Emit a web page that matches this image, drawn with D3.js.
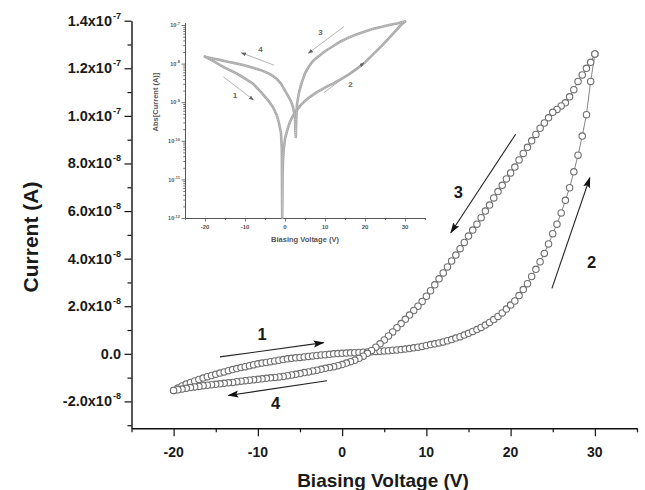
<!DOCTYPE html>
<html><head><meta charset="utf-8">
<script src="https://cdn.jsdelivr.net/npm/d3@7"></script>
<style>body{margin:0;background:#fff}svg{display:block}</style>
</head><body>
<svg id="c" width="645" height="490"></svg>
<script>
// ---------- main data (voltage in V, current in units of 1e-8 A) ----------
const V = [-20,-19.5,-19,-18.5,-18,-17.5,-17,-16.5,-16,-15.5,-15,-14.5,-14,-13.5,-13,-12.5,-12,-11.5,-11,-10.5,
-10,-9.5,-9,-8.5,-8,-7.5,-7,-6.5,-6,-5.5,-5,-4.5,-4,-3.5,-3,-2.5,-2,-1.5,-1,-0.5,
0,0.5,1,1.5,2,2.5,3,3.5,4,4.5,5,5.5,6,6.5,7,7.5,8,8.5,9,9.5,
10,10.5,11,11.5,12,12.5,13,13.5,14,14.5,15,15.5,16,16.5,17,17.5,18,18.5,19,19.5,
20,20.5,21,21.5,22,22.5,23,23.5,24,24.5,25,25.5,26,26.5,27,27.5,28,28.5,29,29.5,30];
// forward sweep -20 -> 30 (arrows 1, 2)
const I_fwd = [-1.54,-1.44,-1.35,-1.27,-1.20,-1.14,-1.08,-1.02,-0.96,-0.91,-0.86,-0.81,-0.76,-0.71,-0.66,-0.62,-0.58,-0.54,-0.50,-0.46,
-0.42,-0.39,-0.36,-0.33,-0.30,-0.27,-0.24,-0.21,-0.19,-0.17,-0.15,-0.13,-0.11,-0.09,-0.07,-0.05,-0.04,-0.02,0.00,0.01,
0.02,0.03,0.04,0.05,0.06,0.07,0.08,0.09,0.10,0.11,0.12,0.13,0.15,0.16,0.18,0.20,0.22,0.25,0.28,0.31,
0.35,0.39,0.42,0.46,0.50,0.55,0.60,0.66,0.72,0.79,0.86,0.94,1.02,1.11,1.21,1.32,1.44,1.57,1.72,1.88,
2.05,2.22,2.45,2.70,2.95,3.25,3.55,3.87,4.22,4.62,5.05,5.45,5.92,6.45,6.98,7.65,8.35,9.15,10.05,11.45,12.6];
// reverse sweep 30 -> -20 (arrows 3, 4), listed in the same voltage order as V
const I_rev = [-1.54,-1.51,-1.48,-1.45,-1.42,-1.39,-1.37,-1.34,-1.32,-1.30,-1.28,-1.26,-1.24,-1.22,-1.20,-1.17,-1.15,-1.13,-1.11,-1.09,
-1.07,-1.05,-1.03,-1.01,-0.99,-0.97,-0.95,-0.92,-0.89,-0.86,-0.83,-0.79,-0.76,-0.72,-0.69,-0.65,-0.61,-0.58,-0.54,-0.50,
-0.45,-0.39,-0.33,-0.27,-0.19,-0.10,0.02,0.14,0.28,0.42,0.58,0.75,0.92,1.10,1.27,1.45,1.63,1.82,2.00,2.20,
2.42,2.65,2.90,3.15,3.40,3.65,3.90,4.15,4.42,4.68,4.95,5.20,5.45,5.72,6.00,6.25,6.55,6.82,7.08,7.35,
7.60,7.85,8.15,8.42,8.68,8.95,9.22,9.48,9.70,9.92,10.15,10.27,10.42,10.55,10.80,11.10,11.45,11.72,12.00,12.25,12.6];

// main axis ticks
const xTicks = [-20,-10,0,10,20,30];
const xMinor = [-25,-15,-5,5,15,25,35];
const yTicks = [1.4e-7,1.2e-7,1.0e-7,8e-8,6e-8,4e-8,2e-8,0,-2e-8];
const yMant  = ["1.4","1.2","1.0","8.0","6.0","4.0","2.0","0.0","-2.0"];
const yExp   = ["-7","-7","-7","-8","-8","-8","-8","","-8"];
const yMinor = [1.3e-7,1.1e-7,9e-8,7e-8,5e-8,3e-8,1e-8,-1e-8,-3e-8];

// main annotations: [label, x1, y1(1e-8 A), x2, y2, labelX, labelY]
const arrowsMain = [
  ["1", -14.5, -0.13, -2.2, 0.47, -9.5, 0.82],
  ["4", -1.8, -1.13, -13.5, -1.75, -7.9, -2.06],
  ["3", 20.6, 9.23, 12.9, 5.09, 13.8, 6.78],
  ["2", 24.9, 2.75, 29.4, 7.4, 29.6, 3.87]
];

// ---------- inset data: |I| as log10(A) ----------
const insV_fwd = [-20,-18,-16,-14,-12,-10,-8,-6,-4,-3,-2,-1.5,-1,-0.8,-0.7,-0.6,-0.5,-0.3,0,0.5,1,1.5,2,3,4,5,6,8,10,12,14,16,18,20,22,24,26,28,29,30];
const insL_fwd = [-7.82,-7.93,-8.05,-8.16,-8.26,-8.39,-8.52,-8.74,-8.98,-9.13,-9.35,-9.55,-9.8,-10.2,-11.99,-10.9,-10.5,-10.2,-9.95,-9.75,-9.58,-9.45,-9.35,-9.2,-9.07,-8.97,-8.88,-8.74,-8.62,-8.52,-8.4,-8.28,-8.13,-7.97,-7.76,-7.56,-7.34,-7.11,-7.0,-6.91];
const insV_rev = [30,28,26,24,22,20,18,16,14,12,10,8,7,6,5,4,3.5,3,2.8,2.7,2.5,2,1.5,1,0,-1,-2,-3,-4,-6,-8,-10,-12,-14,-16,-18,-20];
const insL_rev = [-6.91,-6.96,-7.0,-7.05,-7.1,-7.17,-7.24,-7.32,-7.42,-7.55,-7.68,-7.84,-7.93,-8.07,-8.25,-8.55,-8.75,-9.05,-9.5,-9.9,-9.4,-9.12,-8.98,-8.88,-8.7,-8.52,-8.4,-8.32,-8.26,-8.17,-8.11,-8.05,-8.0,-7.96,-7.91,-7.87,-7.82];
const insYTicks = [-7,-8,-9,-10,-11,-12];
const insXTicks = [-20,-10,0,10,20,30];
const insXMinor = [-25,-15,-5,5,15,25,35];
// inset annotations: [label, x1, log1, x2, log2, labelX, labelLog]
const arrowsInset = [
  ["1", -15.4, -8.34, -7.9, -8.94, -12.5, -8.81],
  ["4", -2.75, -8.04, -10.9, -7.72, -6.1, -7.62],
  ["3", 14.75, -7.04, 5.85, -7.73, 8.9, -7.17],
  ["2", 9.75, -8.75, 19.75, -7.98, 16.4, -8.53]
];

// ---------- drawing ----------
const svg = d3.select("#c");
const FONT = "'Liberation Sans', Arial, sans-serif";
const defs = svg.append("defs");
defs.append("marker").attr("id","ah").attr("markerUnits","userSpaceOnUse")
  .attr("markerWidth",11).attr("markerHeight",8).attr("refX",10).attr("refY",4).attr("orient","auto")
  .append("path").attr("d","M0,0.5 L11,4 L0,7.5 L2,4 z").attr("fill","#111");
defs.append("marker").attr("id","ahs").attr("markerUnits","userSpaceOnUse")
  .attr("markerWidth",5).attr("markerHeight",4).attr("refX",4.5).attr("refY",2).attr("orient","auto")
  .append("path").attr("d","M0,0 L5,2 L0,4 z").attr("fill","#666");

const x = d3.scaleLinear([-25,35],[131.5,637]);
const y = d3.scaleLinear([-3.13e-8,1.4e-7],[428.3,20.7]);

// axes
const gx = svg.append("g").attr("transform",`translate(0,${y.range()[0]})`)
  .call(d3.axisBottom(x).tickValues(xTicks).tickSize(8).tickSizeOuter(0).tickFormat(""));
const gxm = svg.append("g").attr("transform",`translate(0,${y.range()[0]})`)
  .call(d3.axisBottom(x).tickValues(xMinor).tickSize(4).tickSizeOuter(0).tickFormat(""));
gxm.select(".domain").remove();
const gy = svg.append("g").attr("transform",`translate(${x.range()[0]},0)`)
  .call(d3.axisLeft(y).tickValues(yTicks).tickSize(7).tickSizeOuter(0).tickFormat(""));
const gym = svg.append("g").attr("transform",`translate(${x.range()[0]},0)`)
  .call(d3.axisLeft(y).tickValues(yMinor).tickSize(4).tickSizeOuter(0).tickFormat(""));
gym.select(".domain").remove();
svg.selectAll(".domain").attr("stroke","#111").attr("stroke-width",1.4);
svg.selectAll(".tick line").attr("stroke","#111").attr("stroke-width",1.2);

// x tick labels
svg.append("g").selectAll("text").data(xTicks).join("text")
  .attr("x",d=>x(d)).attr("y",y.range()[0]+29)
  .attr("text-anchor","middle").attr("font-family",FONT).attr("font-weight","bold")
  .attr("font-size",14).attr("fill","#1a1a1a").text(d=>d);
// y tick labels with superscripts
const yl = svg.append("g").selectAll("text").data(yTicks).join("text")
  .attr("x",121).attr("y",d=>y(d)+5)
  .attr("text-anchor","end").attr("font-family",FONT).attr("font-weight","bold")
  .attr("font-size",14.5).attr("fill","#1a1a1a");
yl.each(function(d,i){
  const t = d3.select(this);
  t.append("tspan").text(yMant[i] + (yExp[i] ? "x10" : ""));
  if (yExp[i]) t.append("tspan").attr("font-size",9).attr("dx",1).attr("dy",-7).text(yExp[i]);
});

// axis titles
svg.append("text").attr("x",383).attr("y",487).attr("text-anchor","middle")
  .attr("font-family",FONT).attr("font-weight","bold").attr("font-size",19).attr("fill","#1a1a1a")
  .text("Biasing Voltage (V)");
svg.append("text").attr("transform","translate(38,237) rotate(-90)").attr("text-anchor","middle")
  .attr("font-family",FONT).attr("font-weight","bold").attr("font-size",21).attr("fill","#1a1a1a")
  .text("Current (A)");

// data
const fwd = V.map((v,i)=>[v, I_fwd[i]*1e-8]);
const rev = V.map((v,i)=>[v, I_rev[i]*1e-8]).reverse();
const line = d3.line().x(d=>x(d[0])).y(d=>y(d[1]));
const dataG = svg.append("g");
[fwd, rev].forEach(s=>{
  dataG.append("path").attr("d",line(s)).attr("fill","none").attr("stroke","#777").attr("stroke-width",0.9);
});
[fwd, rev].forEach(s=>{
  dataG.append("g").selectAll("circle").data(s).join("circle")
    .attr("cx",d=>x(d[0])).attr("cy",d=>y(d[1])).attr("r",3.2)
    .attr("fill","#fff").attr("stroke","#6e6e6e").attr("stroke-width",1.1);
});

// main arrows
const aG = svg.append("g");
arrowsMain.forEach(a=>{
  aG.append("line").attr("x1",x(a[1])).attr("y1",y(a[2]*1e-8)).attr("x2",x(a[3])).attr("y2",y(a[4]*1e-8))
    .attr("stroke","#222").attr("stroke-width",1.1).attr("marker-end","url(#ah)");
  aG.append("text").attr("x",x(a[5])).attr("y",y(a[6]*1e-8)+6).attr("text-anchor","middle")
    .attr("font-family",FONT).attr("font-weight","bold").attr("font-size",16.5).attr("fill","#1a1a1a").text(a[0]);
});

// ---------- inset ----------
const ix = d3.scaleLinear([-25,35],[185,425]);
const iy = d3.scaleLog([1e-12, Math.pow(10,-6.94)],[218,22.7]);
const ins = svg.append("g");
const INK = "#555";
const igx = ins.append("g").attr("transform","translate(0,218)")
  .call(d3.axisBottom(ix).tickValues(insXTicks).tickSize(3.5).tickSizeOuter(0).tickFormat(""));
const igxm = ins.append("g").attr("transform","translate(0,218)")
  .call(d3.axisBottom(ix).tickValues(insXMinor).tickSize(2).tickSizeOuter(0).tickFormat(""));
igxm.select(".domain").remove();
const iyMinor = [];
insYTicks.forEach(e=>{ if(e<-7) for(let k=2;k<=9;k++) iyMinor.push(k*Math.pow(10,e)); });
const igy = ins.append("g").attr("transform","translate(185,0)")
  .call(d3.axisLeft(iy).tickValues(insYTicks.map(e=>Math.pow(10,e))).tickSize(3.5).tickSizeOuter(0).tickFormat(""));
const igym = ins.append("g").attr("transform","translate(185,0)")
  .call(d3.axisLeft(iy).tickValues(iyMinor).tickSize(1.8).tickSizeOuter(0).tickFormat(""));
igym.select(".domain").remove();
ins.selectAll(".domain").attr("stroke",INK).attr("stroke-width",1);
ins.selectAll(".tick line").attr("stroke",INK).attr("stroke-width",0.8);

ins.append("g").selectAll("text").data(insXTicks).join("text")
  .attr("x",d=>ix(d)).attr("y",229).attr("text-anchor","middle")
  .attr("font-family",FONT).attr("font-weight","bold").attr("font-size",6).attr("fill",INK).text(d=>d);
const iyl = ins.append("g").selectAll("text").data(insYTicks).join("text")
  .attr("x",180).attr("y",d=>iy(Math.pow(10,d))+2.2).attr("text-anchor","end")
  .attr("font-family",FONT).attr("font-weight","bold").attr("font-size",5.5).attr("fill",INK);
iyl.each(function(d){
  const t = d3.select(this);
  t.append("tspan").text("10");
  t.append("tspan").attr("font-size",4).attr("dy",-2.5).text(String(d));
});
ins.append("text").attr("x",305).attr("y",242).attr("text-anchor","middle")
  .attr("font-family",FONT).attr("font-weight","bold").attr("font-size",7.5).attr("fill",INK)
  .text("Biasing Voltage (V)");
ins.append("text").attr("transform","translate(158,102) rotate(-90)").attr("text-anchor","middle")
  .attr("font-family",FONT).attr("font-weight","bold").attr("font-size",7.5).attr("fill",INK)
  .text("Abs[Current (A)]");

const iline = d3.line().x(d=>ix(d[0])).y(d=>iy(Math.pow(10,d[1])));
const ifwd = insV_fwd.map((v,i)=>[v, insL_fwd[i]]);
const irev = insV_rev.map((v,i)=>[v, insL_rev[i]]);
[ifwd, irev].forEach(s=>{
  ins.append("path").attr("d",iline(s)).attr("fill","none").attr("stroke","#a9a9a9")
    .attr("stroke-width",2.6).attr("stroke-linejoin","round").attr("stroke-linecap","round");
  ins.append("path").attr("d",iline(s)).attr("fill","none").attr("stroke","#d2d2d2")
    .attr("stroke-width",0.8).attr("stroke-dasharray","1,1.2");
});

arrowsInset.forEach(a=>{
  ins.append("line").attr("x1",ix(a[1])).attr("y1",iy(Math.pow(10,a[2]))).attr("x2",ix(a[3])).attr("y2",iy(Math.pow(10,a[4])))
    .attr("stroke","#aaa").attr("stroke-width",0.9).attr("marker-end","url(#ahs)");
  ins.append("text").attr("x",ix(a[5])).attr("y",iy(Math.pow(10,a[6]))+3).attr("text-anchor","middle")
    .attr("font-family",FONT).attr("font-weight","bold").attr("font-size",8).attr("fill","#666").text(a[0]);
});
</script>
</body></html>
